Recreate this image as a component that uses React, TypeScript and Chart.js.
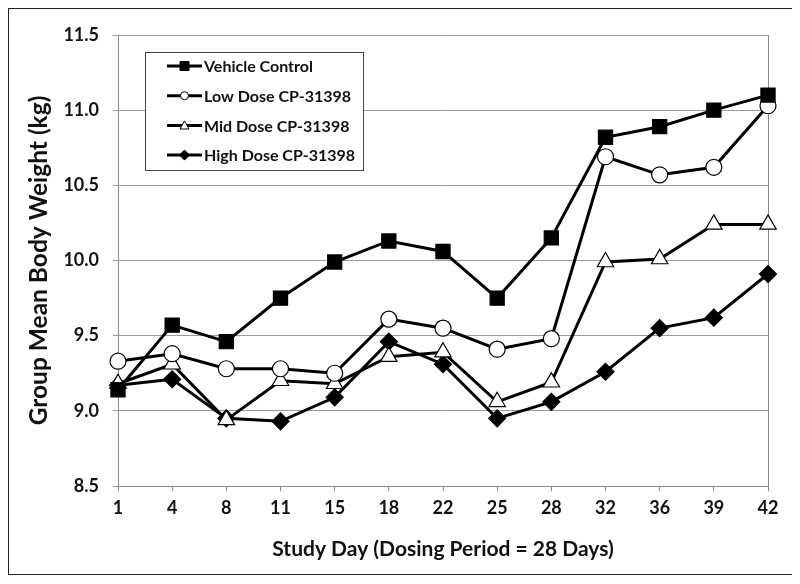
import React, { useEffect, useRef } from 'react';
import { Chart, registerables } from 'chart.js';

Chart.register(...registerables);

// ---- Data ----
const studyDays = ['1', '4', '8', '11', '15', '18', '22', '25', '28', '32', '36', '39', '42'];
const vehicleControl = [9.14, 9.57, 9.46, 9.75, 9.99, 10.13, 10.06, 9.75, 10.15, 10.82, 10.89, 11.0, 11.1];
const lowDose = [9.33, 9.38, 9.28, 9.28, 9.25, 9.61, 9.55, 9.41, 9.48, 10.69, 10.57, 10.62, 11.03];
const midDose = [9.18, 9.31, 8.94, 9.2, 9.18, 9.36, 9.39, 9.06, 9.19, 9.99, 10.01, 10.24, 10.24];
const highDose = [9.17, 9.21, 8.95, 8.93, 9.09, 9.46, 9.31, 8.95, 9.06, 9.26, 9.55, 9.62, 9.91];
const seriesLabels = ['Vehicle Control', 'Low Dose CP-31398', 'Mid Dose CP-31398', 'High Dose CP-31398'];
const yMin = 8.5;
const yMax = 11.5;
const yStep = 0.5;
const xTitle = 'Study Day (Dosing Period = 28 Days)';
const yTitle = 'Group Mean Body Weight (kg)';

const FONT = 'Lato, "Open Sans", sans-serif';

function drawMarker(ctx: CanvasRenderingContext2D, style: string, x: number, y: number, s: number, fill: string) {
  ctx.save();
  ctx.fillStyle = fill;
  ctx.strokeStyle = '#000';
  ctx.lineWidth = 1;
  ctx.beginPath();
  if (style === 'rect') {
    ctx.rect(x - s, y - s, 2 * s, 2 * s);
  } else if (style === 'circle') {
    ctx.arc(x, y, s, 0, Math.PI * 2);
  } else if (style === 'triangle') {
    ctx.moveTo(x, y - s);
    ctx.lineTo(x + s, y + s * 0.8);
    ctx.lineTo(x - s, y + s * 0.8);
    ctx.closePath();
  } else {
    ctx.moveTo(x, y - s);
    ctx.lineTo(x + s, y);
    ctx.lineTo(x, y + s);
    ctx.lineTo(x - s, y);
    ctx.closePath();
  }
  ctx.fill();
  ctx.stroke();
  ctx.restore();
}

const boxLegend = {
  id: 'boxLegend',
  afterDatasetsDraw(chart: any) {
    const { ctx, chartArea } = chart;
    const bx = chartArea.left + 27;
    const by = chartArea.top + 17;
    const bw = 218;
    const bh = 118;
    ctx.save();
    ctx.fillStyle = '#fff';
    ctx.fillRect(bx, by, bw, bh);
    ctx.strokeStyle = '#444';
    ctx.lineWidth = 1;
    ctx.strokeRect(bx + 0.5, by + 0.5, bw, bh);
    chart.data.datasets.forEach((ds: any, i: number) => {
      const cy = by + 14 + i * 29.7;
      ctx.strokeStyle = '#000';
      ctx.lineWidth = 3;
      ctx.beginPath();
      ctx.moveTo(bx + 22, cy);
      ctx.lineTo(bx + 57, cy);
      ctx.stroke();
      const sizes: Record<string, number> = { rect: 4.5, circle: 4, triangle: 4.5, rectRot: 5 };
      drawMarker(ctx, ds.pointStyle, bx + 39.5, cy, sizes[ds.pointStyle] || 4, ds.pointBackgroundColor);
      ctx.fillStyle = '#111';
      ctx.font = `bold 16px ${FONT}`;
      ctx.textAlign = 'left';
      ctx.textBaseline = 'middle';
      ctx.fillText(ds.label, bx + 59, cy + 1);
    });
    ctx.restore();
  },
};

const frame = {
  id: 'frame',
  beforeDatasetsDraw(chart: any) {
    const { ctx, chartArea } = chart;
    ctx.save();
    ctx.strokeStyle = '#8a8a8a';
    ctx.lineWidth = 1;
    ctx.beginPath();
    ctx.moveTo(Math.round(chartArea.right) + 0.5, chartArea.top);
    ctx.lineTo(Math.round(chartArea.right) + 0.5, chartArea.bottom);
    ctx.stroke();
    ctx.restore();
  },
};

export default function App() {
  const ref = useRef<HTMLCanvasElement>(null);
  useEffect(() => {
    if (!ref.current) return;
    const mk = (label: string, data: number[], style: string, fill: string, radius: number) => ({
      label,
      data,
      borderColor: '#000',
      borderWidth: 3,
      pointStyle: style,
      pointRadius: radius,
      pointBackgroundColor: fill,
      pointBorderColor: '#000',
      pointBorderWidth: 1.2,
      fill: false,
      tension: 0,
    });
    const chart = new Chart(ref.current, {
      type: 'line',
      data: {
        labels: studyDays,
        datasets: [
          mk(seriesLabels[0], vehicleControl, 'rect', '#000', 10),
          mk(seriesLabels[1], lowDose, 'circle', '#fff', 8),
          mk(seriesLabels[2], midDose, 'triangle', '#fff', 9.5),
          mk(seriesLabels[3], highDose, 'rectRot', '#000', 8.5),
        ] as any,
      },
      options: {
        responsive: false,
        animation: false,
        layout: { padding: { top: 26, right: 24, left: 0, bottom: 0 } },
        plugins: { legend: { display: false }, tooltip: { enabled: false } },
        scales: {
          x: {
            type: 'category',
            offset: false,
            afterFit: (s: any) => { s.height = 88; },
            grid: { drawOnChartArea: false, drawTicks: true, tickLength: 5, color: '#8a8a8a' },
            border: { color: '#8a8a8a' },
            ticks: { color: '#111', font: { family: FONT, size: 18, weight: 'bold' }, padding: 6, maxRotation: 0, autoSkip: false },
            title: { display: true, text: xTitle, color: '#111', font: { family: FONT, size: 21, weight: 'bold' }, padding: 12 },
          },
          y: {
            min: yMin,
            max: yMax,
            afterFit: (s: any) => { s.width = 109; },
            grid: { color: '#9a9a9a', tickLength: 5 },
            border: { color: '#8a8a8a' },
            ticks: {
              stepSize: yStep,
              color: '#111',
              padding: 14,
              font: { family: FONT, size: 18, weight: 'bold' },
              callback: (v: any) => Number(v).toFixed(1),
            },
            title: { display: true, text: yTitle, color: '#111', font: { family: FONT, size: 24.5, weight: 'bold' }, padding: { top: 15, bottom: 0 } },
          },
        },
      } as any,
      plugins: [frame, boxLegend],
    });
    return () => chart.destroy();
  }, []);
  return (
    <div style={{ width: 783, height: 565, border: '1px solid #222', background: '#fff' }}>
      <canvas ref={ref} width={783} height={565} style={{ display: 'block' }} />
    </div>
  );
}
